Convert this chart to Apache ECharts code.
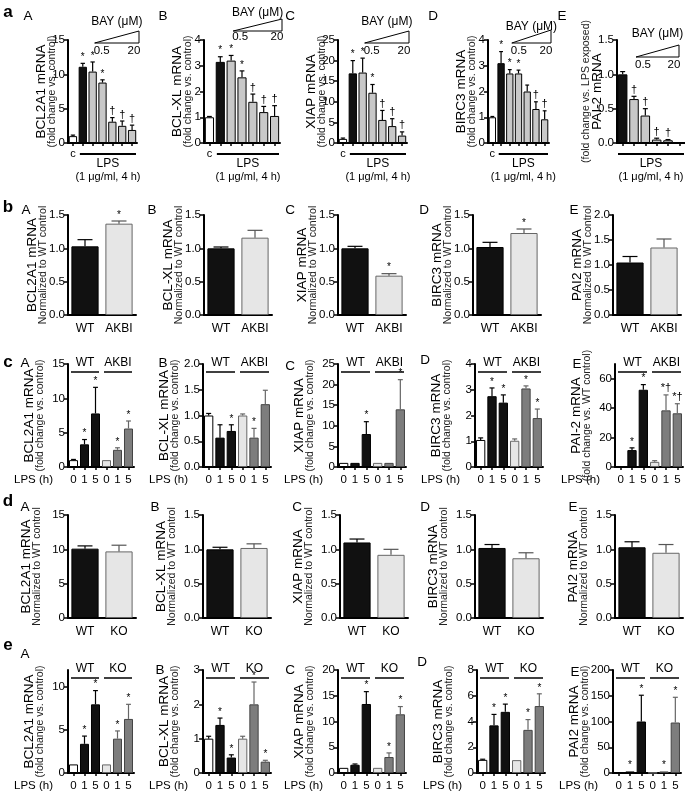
<!DOCTYPE html>
<html><head><meta charset="utf-8">
<script src="https://cdn.jsdelivr.net/npm/echarts@6/dist/echarts.min.js"></script>
<style>html,body{margin:0;padding:0;background:#fff}#c{width:685px;height:793px}</style>
</head><body><div id="c"></div>
<script>
// ================= DATA =================
const catsA  = ['c','','','','','',''];
const catsAE = ['','','','','',''];
const catsB  = ['WT','AKBI'];
const catsC  = ['0','1','5','0','1','5'];
const catsD  = ['WT','KO'];
const catsE  = ['0','1','5','0','1','5'];

// row a : BAY dose response
const aA_val = [1.0, 11.1, 10.4, 8.8, 3.1, 2.5, 1.9];
const aA_err = [0.15, 0.5, 1.4, 0.4, 0.6, 0.7, 0.7];
const aA_sig = ['', '*', '*', '*', '†', '†', '†'];
const aB_val = [1.0, 3.15, 3.2, 2.55, 1.6, 1.2, 1.05];
const aB_err = [0.03, 0.2, 0.2, 0.25, 0.3, 0.22, 0.4];
const aB_sig = ['', '*', '*', '*', '†', '†', '†'];
const aC_val = [1.0, 16.9, 17.1, 12.2, 5.6, 4.1, 1.8];
const aC_err = [0.2, 3.1, 3.5, 2.0, 2.3, 1.8, 0.9];
const aC_sig = ['', '*', '*', '*', '†', '†', '†'];
const aD_val = [1.0, 3.1, 2.7, 2.7, 2.0, 1.32, 0.92];
const aD_err = [0.03, 0.45, 0.15, 0.13, 0.25, 0.28, 0.33];
const aD_sig = ['', '*', '*', '*', '', '†', '†'];
const aE_val = [1.0, 0.64, 0.40, 0.05, 0.04, 0.0];
const aE_err = [0.04, 0.04, 0.1, 0.02, 0.01, 0.0];
const aE_sig = ['', '†', '†', '†', '†', ''];

// row b : WT vs AKBI basal
const bA_val = [1.03, 1.37]; const bA_err = [0.1, 0.04];  const bA_sig = ['', '*'];
const bB_val = [1.0, 1.16];  const bB_err = [0.02, 0.11]; const bB_sig = ['', ''];
const bC_val = [1.0, 0.59];  const bC_err = [0.03, 0.03]; const bC_sig = ['', '*'];
const bD_val = [1.02, 1.23]; const bD_err = [0.07, 0.06]; const bD_sig = ['', '*'];
const bE_val = [1.05, 1.35]; const bE_err = [0.12, 0.17]; const bE_sig = ['', ''];

// row c : LPS time course WT / AKBI
const cA_val = [1.0, 3.3, 7.8, 1.0, 2.5, 5.6];
const cA_err = [0.1, 0.7, 3.8, 0.05, 0.3, 1.1];
const cA_sig = ['', '*', '*', '', '*', '*'];
const cB_val = [1.0, 0.57, 0.70, 1.0, 0.57, 1.22];
const cB_err = [0.04, 0.25, 0.12, 0.03, 0.18, 0.27];
const cB_sig = ['', '', '*', '', '*', ''];
const cC_val = [1.0, 1.0, 8.0, 1.0, 1.0, 14.0];
const cC_err = [0.1, 0.1, 3.0, 0.1, 0.1, 7.2];
const cC_sig = ['', '', '*', '', '', '*'];
const cD_val = [1.05, 2.75, 2.5, 1.02, 3.05, 1.9];
const cD_err = [0.08, 0.32, 0.3, 0.07, 0.1, 0.35];
const cD_sig = ['', '*', '*', '', '*', '*'];
const cE_val = [0.5, 11.5, 52.5, 3.5, 38.5, 36.5];
const cE_err = [0.2, 1.5, 3.5, 0.8, 10.5, 6.5];
const cE_sig = ['', '*', '*', '', '*†', '*†'];

// row d : WT vs KO basal
const dA_val = [10.1, 9.7];  const dA_err = [0.4, 0.9];   const dA_sig = ['', ''];
const dB_val = [1.0, 1.02];  const dB_err = [0.03, 0.06]; const dB_sig = ['', ''];
const dC_val = [1.1, 0.92];  const dC_err = [0.05, 0.08]; const dC_sig = ['', ''];
const dD_val = [1.02, 0.87]; const dD_err = [0.05, 0.08]; const dD_sig = ['', ''];
const dE_val = [1.03, 0.95]; const dE_err = [0.08, 0.12]; const dE_sig = ['', ''];

// row e : LPS time course WT / KO
const eA_val = [1.0, 3.4, 8.0, 1.0, 4.0, 6.3];
const eA_err = [0.05, 0.9, 1.6, 0.05, 0.9, 1.7];
const eA_sig = ['', '*', '*', '', '*', '*'];
const eB_val = [1.0, 1.4, 0.45, 1.0, 2.0, 0.33];
const eB_err = [0.07, 0.2, 0.08, 0.07, 0.65, 0.04];
const eB_sig = ['', '*', '*', '', '*', '*'];
const eC_val = [1.0, 1.6, 13.4, 1.0, 3.1, 11.4];
const eC_err = [0.05, 0.15, 2.4, 0.05, 0.8, 1.5];
const eC_sig = ['', '', '*', '', '*', '*'];
const eD_val = [1.02, 3.7, 4.75, 1.0, 3.35, 5.2];
const eD_err = [0.05, 0.85, 0.6, 0.03, 0.8, 0.95];
const eD_sig = ['', '*', '*', '', '*', '*'];
const eE_val = [0.5, 3, 100, 0.5, 3, 98];
const eE_err = [0.2, 1, 51, 0.2, 1, 49];
const eE_sig = ['', '*', '*', '', '*', '*'];

// axis ticks
const ticksCE = [0, 20, 40, 60];
const ticksEA = [0, 5, 10];

// ================= LAYOUT / STYLE =================
const FONT = '"Liberation Sans", Arial, Helvetica, sans-serif';
const ROWS = [
  {top:40,  height:103, lefts:[68,204,338,488,617], widths:[69,76,69,61,68], nameGap:10, gap:'16%', ticks:true,  xfs:11,   xm:5, letters:[[28,16],[163,16],[290,16],[433,16],[562,16]], tag:[8,12,'a']},
  {top:215, height:100, lefts:[68,204,338,473,613], widths:[68,68,68,68,68], nameGap:19, gap:'20%', ticks:false, xfs:12,   xm:8, letters:[[26,210],[152,210],[290,210],[424,210],[574,210]], tag:[8,207,'b']},
  {top:364, height:103, lefts:[68,203,338,475,615], widths:[66,68,68,68,68], nameGap:22, gap:'18%', ticks:true,  xfs:11.5, xm:7, letters:[[25,363],[163,363],[290,366],[425,360],[577,364]], tag:[8,362,'c']},
  {top:515, height:103, lefts:[68,203,340,475,615], widths:[68,68,68,68,68], nameGap:25, gap:'20%', ticks:false, xfs:12,   xm:8, letters:[[25,507],[155,507],[297,507],[425,507],[573,507]], tag:[8,501,'d']},
  {top:670, height:103, lefts:[68,203,338,477,613], widths:[66,68,68,68,68], nameGap:22, gap:'18%', ticks:true,  xfs:11.5, xm:7, letters:[[25,654],[160,670],[290,670],[422,662],[575,672]], tag:[8,645,'e']}
];
// BAY triangle placement per column of row a: [bottom y, height, text y, label y]
const TRI = [[43,12,22,51],[31,12,13,37],[43,12,22,51],[43,13,27,51],[57,12,34,65]];
const GRAY = '#c8c8c8', LIGHT = '#e6e6e6', DARK = '#7d7d7d';
const SCHEME = {
  a:  {fill:['#fff','#111',GRAY,GRAY,GRAY,GRAY,GRAY], border:['#000','#000','#000','#000','#000','#000','#000'], err:['#000','#000','#000','#000','#000','#000','#000']},
  aE: {fill:['#111',GRAY,GRAY,GRAY,GRAY,GRAY], border:['#000','#000','#000','#000','#000','#000'], err:['#000','#000','#000','#000','#000','#000']},
  b:  {fill:['#111',LIGHT], border:['#000','#666'], err:['#000','#555']},
  c:  {fill:['#fff','#111','#111',LIGHT,DARK,DARK], border:['#000','#000','#000','#666','#444','#444'], err:['#000','#000','#000','#666','#666','#666']}
};

const PANELS = [
  {row:0,col:0,cats:catsA,val:aA_val,err:aA_err,sig:aA_sig,max:15,iv:5,dec:0,s:'a',t:['BCL2A1 mRNA','(fold change vs. control)']},
  {row:0,col:1,cats:catsA,val:aB_val,err:aB_err,sig:aB_sig,max:4,iv:1,dec:0,s:'a',t:['BCL-XL mRNA','(fold change vs. control)']},
  {row:0,col:2,cats:catsA,val:aC_val,err:aC_err,sig:aC_sig,max:25,iv:5,dec:0,s:'a',t:['XIAP mRNA','(fold change vs. control)']},
  {row:0,col:3,cats:catsA,val:aD_val,err:aD_err,sig:aD_sig,max:4,iv:1,dec:0,s:'a',t:['BIRC3 mRNA','(fold change vs. control)']},
  {row:0,col:4,cats:catsAE,val:aE_val,err:aE_err,sig:aE_sig,max:1.5,iv:0.5,dec:1,s:'aE',t:['PAI-2 mRNA','(fold change vs. LPS exposed)'],rev:true,ng:14},

  {row:1,col:0,cats:catsB,val:bA_val,err:bA_err,sig:bA_sig,max:1.5,iv:0.5,dec:1,s:'b',t:['BCL2A1 mRNA','Normalized to WT control']},
  {row:1,col:1,cats:catsB,val:bB_val,err:bB_err,sig:bB_sig,max:1.5,iv:0.5,dec:1,s:'b',t:['BCL-XL mRNA','Normalized to WT control']},
  {row:1,col:2,cats:catsB,val:bC_val,err:bC_err,sig:bC_sig,max:1.5,iv:0.5,dec:1,s:'b',t:['XIAP mRNA','Normalized to WT control']},
  {row:1,col:3,cats:catsB,val:bD_val,err:bD_err,sig:bD_sig,max:1.5,iv:0.5,dec:1,s:'b',t:['BIRC3 mRNA','Normalized to WT control']},
  {row:1,col:4,cats:catsB,val:bE_val,err:bE_err,sig:bE_sig,max:2.0,iv:0.5,dec:1,s:'b',t:['PAI2 mRNA','Normalized to WT control']},

  {row:2,col:0,cats:catsC,val:cA_val,err:cA_err,sig:cA_sig,max:15,iv:5,dec:0,s:'c',t:['BCL2A1 mRNA','(fold change vs. control)'],grp:['WT','AKBI']},
  {row:2,col:1,cats:catsC,val:cB_val,err:cB_err,sig:cB_sig,max:2.0,iv:0.5,dec:1,s:'c',t:['BCL-XL mRNA','(fold change vs. control)'],grp:['WT','AKBI']},
  {row:2,col:2,cats:catsC,val:cC_val,err:cC_err,sig:cC_sig,max:25,iv:5,dec:0,s:'c',t:['XIAP mRNA','(fold change vs. control)'],grp:['WT','AKBI']},
  {row:2,col:3,cats:catsC,val:cD_val,err:cD_err,sig:cD_sig,max:4,iv:1,dec:0,s:'c',t:['BIRC3 mRNA','(fold change vs. control)'],grp:['WT','AKBI']},
  {row:2,col:4,cats:catsC,val:cE_val,err:cE_err,sig:cE_sig,max:70,iv:10,dec:0,s:'c',t:['PAI-2 mRNA','(fold change vs. WT control)'],grp:['WT','AKBI'],custom:ticksCE},

  {row:3,col:0,cats:catsD,val:dA_val,err:dA_err,sig:dA_sig,max:15,iv:5,dec:0,s:'b',t:['BCL2A1 mRNA','Normalized to WT control']},
  {row:3,col:1,cats:catsD,val:dB_val,err:dB_err,sig:dB_sig,max:1.5,iv:0.5,dec:1,s:'b',t:['BCL-XL mRNA','Normalized to WT control']},
  {row:3,col:2,cats:catsD,val:dC_val,err:dC_err,sig:dC_sig,max:1.5,iv:0.5,dec:1,s:'b',t:['XIAP mRNA','Normalized to WT control']},
  {row:3,col:3,cats:catsD,val:dD_val,err:dD_err,sig:dD_sig,max:1.5,iv:0.5,dec:1,s:'b',t:['BIRC3 mRNA','Normalized to WT control']},
  {row:3,col:4,cats:catsD,val:dE_val,err:dE_err,sig:dE_sig,max:1.5,iv:0.5,dec:1,s:'b',t:['PAI2 mRNA','Normalized to WT control']},

  {row:4,col:0,cats:catsE,val:eA_val,err:eA_err,sig:eA_sig,max:12,iv:1,dec:0,s:'c',t:['BCL2A1 mRNA','(fold change vs. control)'],grp:['WT','KO'],custom:ticksEA},
  {row:4,col:1,cats:catsE,val:eB_val,err:eB_err,sig:eB_sig,max:3,iv:1,dec:0,s:'c',t:['BCL-XL mRNA','(fold change vs. control)'],grp:['WT','KO']},
  {row:4,col:2,cats:catsE,val:eC_val,err:eC_err,sig:eC_sig,max:20,iv:5,dec:0,s:'c',t:['XIAP mRNA','(fold change vs. control)'],grp:['WT','KO']},
  {row:4,col:3,cats:catsE,val:eD_val,err:eD_err,sig:eD_sig,max:8,iv:2,dec:0,s:'c',t:['BIRC3 mRNA','(fold change vs. control)'],grp:['WT','KO']},
  {row:4,col:4,cats:catsE,val:eE_val,err:eE_err,sig:eE_sig,max:200,iv:50,dec:0,s:'c',t:['PAI2 mRNA','(fold change vs. control)'],grp:['WT','KO']}
];

// ================= BUILD =================
const grid = [], xAxis = [], yAxis = [], series = [], elements = [];
function txt(x, y, text, fs, opt) {
  const e = {type:'text', x:x, y:y, silent:true, style:{text:text, fill:'#000', fontSize:fs, fontFamily:FONT, align:'center', verticalAlign:'middle'}};
  if (opt) Object.assign(e.style, opt);
  return e;
}
const hline = (x1, x2, y, w) => ({type:'line', silent:true, shape:{x1:x1, y1:y, x2:x2, y2:y}, style:{stroke:'#000', lineWidth:w || 1.5}});

PANELS.forEach((p, k) => {
  const R = ROWS[p.row];
  const L = R.lefts[p.col], W = R.widths[p.col], T = R.top, H = R.height;
  const n = p.cats.length, slot = W / n;
  const S = SCHEME[p.s];
  grid.push({left:L, top:T, width:W, height:H, containLabel:false, outerBoundsMode:'none'});

  const nm = p.rev ? '{t2|' + p.t[1] + '}\n{t1|' + p.t[0] + '}' : '{t1|' + p.t[0] + '}\n{t2|' + p.t[1] + '}';
  xAxis.push({gridIndex:k, type:'category', data:p.cats,
    axisLine:{show:true, lineStyle:{color:'#000', width:2}},
    axisTick:{show:R.ticks, alignWithLabel:true, interval:0, length:3, lineStyle:{color:'#000', width:1.5}},
    axisLabel:{interval:0, color:'#000', fontSize:R.xfs, fontFamily:FONT, margin:R.xm},
    splitLine:{show:false}});
  const ya = {gridIndex:k, type:'value', min:0, max:p.max, interval:p.iv,
    axisLine:{show:true, lineStyle:{color:'#000', width:2}},
    axisTick:{show:true, length:4, lineStyle:{color:'#000', width:1.5}},
    axisLabel:{color:'#000', fontSize:11.5, fontFamily:FONT, margin:3, formatter: v => Number(v).toFixed(p.dec)},
    splitLine:{show:false},
    name:nm, nameLocation:'middle', nameRotate:90, nameGap:(p.ng != null ? p.ng : R.nameGap), nameMoveOverlap:false,
    nameTextStyle:{color:'#000', fontFamily:FONT, rich:{
      t1:{fontSize:13.5, lineHeight:11, fontFamily:FONT, color:'#000'},
      t2:{fontSize:10.5, lineHeight:11, fontFamily:FONT, color:'#222'}}}};
  if (p.custom) { ya.axisLabel.customValues = p.custom; ya.axisTick.customValues = p.custom; }
  yAxis.push(ya);

  series.push({type:'bar', xAxisIndex:k, yAxisIndex:k, silent:true, barCategoryGap:R.gap,
    data:p.val.map((v, i) => ({value:v, itemStyle:{color:S.fill[i], borderColor:S.border[i], borderWidth:1}}))});
  series.push({type:'custom', xAxisIndex:k, yAxisIndex:k, silent:true, clip:false, z:5,
    data:p.val.map((v, i) => [i, v, p.err[i]]),
    renderItem:(params, api) => {
      const i = api.value(0), v = api.value(1), e = api.value(2);
      const p0 = api.coord([i, v]), p1 = api.coord([i, v + e]);
      const sw = api.size([1, 0])[0];
      const hw = Math.min(sw * 0.22, 8);
      const col = S.err[i];
      const ch = [];
      if (e > 0 && p0[1] - p1[1] > 0.6) {
        ch.push({type:'line', shape:{x1:p0[0], y1:p0[1], x2:p1[0], y2:p1[1]}, style:{stroke:col, lineWidth:1.2}});
        ch.push({type:'line', shape:{x1:p1[0] - hw, y1:p1[1], x2:p1[0] + hw, y2:p1[1]}, style:{stroke:col, lineWidth:1.2}});
      }
      const s = p.sig[i];
      if (s) ch.push({type:'text', style:{text:s, x:p1[0], y:p1[1] - 1, align:'center', verticalAlign:'bottom', fontSize:s === '*' ? 10 : 11, fontFamily:FONT, fill:'#000'}});
      return {type:'group', children:ch};
    }});

  // panel letter
  const lp = R.letters[p.col];
  elements.push(txt(lp[0], lp[1], ['A','B','C','D','E'][p.col], 13.5));

  const cx = i => L + (i + 0.5) * slot;
  const base = T + H;
  if (p.row === 0) {
    // LPS bar
    const x1 = p.col === 4 ? L + 1 : L + slot + 2, x2 = L + W - 1;
    elements.push(hline(x1, x2, base + 11, 2));
    elements.push(txt((x1 + x2) / 2, base + 21, 'LPS', 12));
    elements.push(txt((x1 + x2) / 2, base + 34, '(1 μg/ml, 4 h)', 11));
    // BAY triangle
    const isE = p.col === 4;
    const tg = TRI[p.col];
    const tl = isE ? cx(1) + 2 : cx(2) + 2;
    const tr = isE ? L + W - 6 : L + W + 2;
    const tb = tg[0], tt = tb - tg[1];
    elements.push({type:'polygon', silent:true, shape:{points:[[tl, tb], [tr, tt], [tr, tb]]}, style:{fill:'rgba(0,0,0,0)', stroke:'#000', lineWidth:1}});
    elements.push(txt((tl + tr) / 2, tg[2], 'BAY (μM)', 12));
    elements.push(txt(tl + 7, tg[3], '0.5', 11.5));
    elements.push(txt(tr - 5, tg[3], '20', 11.5));
  }
  if (p.grp) {
    [[0, 3], [3, 6]].forEach((g, gi) => {
      const x1 = L + g[0] * slot + 3, x2 = L + g[1] * slot - 2;
      elements.push(hline(x1, x2, T + 8, 1.5));
      elements.push(txt((x1 + x2) / 2, T - 1, p.grp[gi], 12));
    });
    elements.push(txt(L - 15, base + 13, 'LPS (h)', 11.5, {align:'right'}));
  }
});

ROWS.forEach(R => elements.push(txt(R.tag[0], R.tag[1], R.tag[2], 17, {fontWeight:'bold'})));

const chart = echarts.init(document.getElementById('c'), null, {renderer:'canvas'});
chart.setOption({animation:false, backgroundColor:'#fff', grid, xAxis, yAxis, series, graphic:{elements}});
</script></body></html>
